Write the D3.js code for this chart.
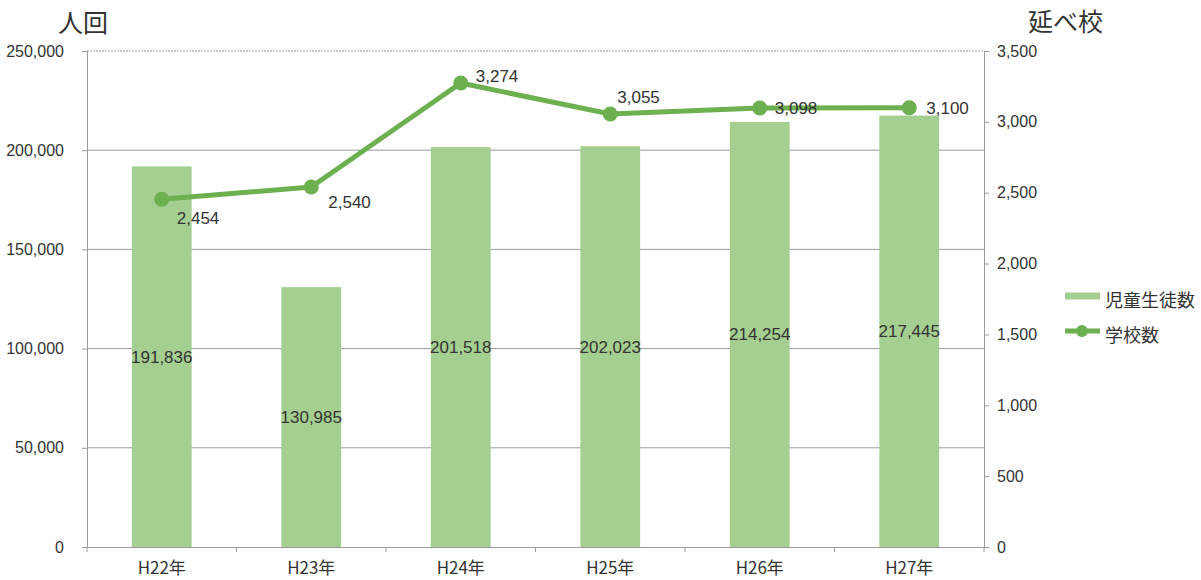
<!DOCTYPE html>
<html lang="ja">
<head>
<meta charset="UTF-8">
<title>児童生徒数・学校数</title>
<script src="https://d3js.org/d3.v7.min.js"></script>
<style>
  body { margin: 0; background: #fff; }
  svg { display: block; font-family: "Liberation Sans", Arial, "Noto Sans CJK JP", sans-serif; }
  .tick text { fill: #333; font-size: 16px; }
  .cjk { font-family: "Noto Sans CJK JP", sans-serif; }
</style>
</head>
<body>
<svg id="chart" width="1201" height="580"></svg>
<script>
const years = ["H22年", "H23年", "H24年", "H25年", "H26年", "H27年"];
const students = [191836, 130985, 201518, 202023, 214254, 217445];
const schools = [2454, 2540, 3274, 3055, 3098, 3100];
const leftTicks = [0, 50000, 100000, 150000, 200000, 250000];
const rightTicks = [0, 500, 1000, 1500, 2000, 2500, 3000, 3500];
// label offsets for the line values [dx, dy]
const schoolLabelPos = [[15, 25], [17, 21], [15, -1], [7, -11], [15, 6], [17, 6]];

const plotL = 87, plotR = 984, plotT = 51, plotB = 547;
const barColor = "#a4cf90", lineColor = "#6cb050", gridColor = "#9a9a9a";

const svg = d3.select("#chart");

const x = d3.scaleBand().domain(years).range([plotL, plotR])
  .paddingInner(0.6).paddingOuter(0.3);
const yL = d3.scaleLinear().domain([0, 250000]).range([plotB, plotT]);
const yR = d3.scaleLinear().domain([0, 3500]).range([plotB, plotT]);

// gridlines
svg.append("g").selectAll("line").data(leftTicks.slice(1)).join("line")
  .attr("x1", plotL).attr("x2", plotR)
  .attr("y1", d => yL(d)).attr("y2", d => yL(d))
  .attr("stroke", gridColor).attr("stroke-width", 1)
  .attr("stroke-dasharray", d => d === 250000 ? "2,1" : null);

// bars
svg.append("g").selectAll("rect").data(students).join("rect")
  .attr("x", (d, i) => x(years[i]))
  .attr("y", d => yL(d))
  .attr("width", x.bandwidth())
  .attr("height", d => yL(0) - yL(d))
  .attr("fill", barColor);

svg.append("g").selectAll("text").data(students).join("text")
  .attr("x", (d, i) => x(years[i]) + x.bandwidth() / 2)
  .attr("y", d => (yL(d) + yL(0)) / 2 + 6)
  .attr("text-anchor", "middle")
  .attr("font-size", 17).attr("fill", "#333")
  .text(d => d3.format(",")(d));

// axes
const axL = svg.append("g").attr("transform", `translate(${plotL},0)`)
  .call(d3.axisLeft(yL).tickValues(leftTicks).tickFormat(d3.format(",")).tickSize(5).tickPadding(18));
const axR = svg.append("g").attr("transform", `translate(${plotR},0)`)
  .call(d3.axisRight(yR).tickValues(rightTicks).tickFormat(d3.format(",")).tickSize(5).tickPadding(8));
const axB = svg.append("g").attr("transform", `translate(0,${plotB})`)
  .call(d3.axisBottom(x).tickSize(0).tickPadding(15));
[axL, axR, axB].forEach(a => {
  a.select(".domain").attr("stroke", gridColor);
  a.selectAll(".tick line").attr("stroke", gridColor);
});
axB.selectAll(".tick text").attr("class", "cjk").style("font-size", "17px").style("fill", "#333");
// category divider ticks
const step = x.step();
axB.append("g").selectAll("line").data(d3.range(years.length + 1)).join("line")
  .attr("x1", i => plotL + i * step).attr("x2", i => plotL + i * step)
  .attr("y1", 0).attr("y2", 5).attr("stroke", gridColor);

// line
const cx = i => x(years[i]) + x.bandwidth() / 2;
svg.append("path").datum(schools)
  .attr("fill", "none").attr("stroke", lineColor).attr("stroke-width", 5)
  .attr("stroke-linejoin", "round")
  .attr("d", d3.line().x((d, i) => cx(i)).y(d => yR(d)));
svg.append("g").selectAll("circle").data(schools).join("circle")
  .attr("cx", (d, i) => cx(i)).attr("cy", d => yR(d)).attr("r", 7.5)
  .attr("fill", lineColor);
svg.append("g").selectAll("text").data(schools).join("text")
  .attr("x", (d, i) => cx(i) + schoolLabelPos[i][0])
  .attr("y", (d, i) => yR(d) + schoolLabelPos[i][1])
  .attr("font-size", 17).attr("fill", "#333")
  .text(d => d3.format(",")(d));

// axis titles
svg.append("text").attr("class", "cjk").attr("x", 58).attr("y", 32)
  .attr("font-size", 25).attr("fill", "#333").text("人回");
svg.append("text").attr("class", "cjk").attr("x", 1028).attr("y", 31)
  .attr("font-size", 25).attr("fill", "#333").text("延べ校");

// legend
const lg = svg.append("g").attr("transform", "translate(1065,296)");
lg.append("line").attr("x1", 0).attr("x2", 35).attr("y1", 0).attr("y2", 0)
  .attr("stroke", barColor).attr("stroke-width", 7);
lg.append("text").attr("class", "cjk").attr("x", 40).attr("y", 11)
  .attr("font-size", 18).attr("fill", "#333").text("児童生徒数");
lg.append("line").attr("x1", 0).attr("x2", 35).attr("y1", 35).attr("y2", 35)
  .attr("stroke", lineColor).attr("stroke-width", 5);
lg.append("circle").attr("cx", 17).attr("cy", 35).attr("r", 6).attr("fill", lineColor);
lg.append("text").attr("class", "cjk").attr("x", 40).attr("y", 46)
  .attr("font-size", 18).attr("fill", "#333").text("学校数");
</script>
</body>
</html>
